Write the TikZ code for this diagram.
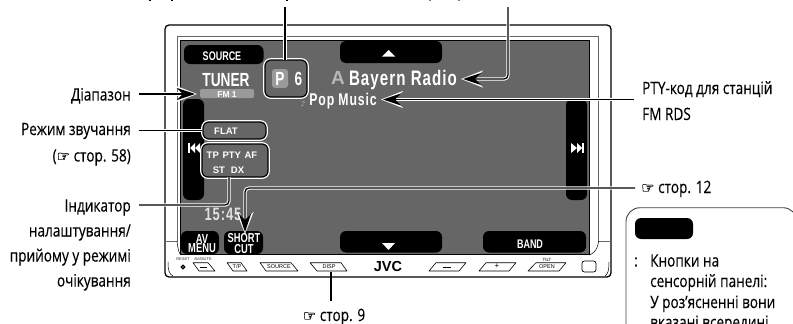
\documentclass[tikz,border=0pt]{standalone}
\usepackage{fontspec}
\usetikzlibrary{arrows.meta}
\newfontfamily\lab[FakeStretch=0.8,FakeBold=0.25]{Open Sans}
\newfontfamily\dev[FakeStretch=0.72]{Liberation Sans}
\newfontfamily\devw[FakeStretch=0.72,LetterSpace=5]{Liberation Sans}
\newfontfamily\devn{Liberation Sans}
\newfontfamily\symf[FakeBold=0.3]{DejaVu Sans}
\definecolor{scr}{HTML}{666666}
\definecolor{pill}{HTML}{9A9A9A}
\newcommand{\hand}{{\symf\fontsize{15}{15}\selectfont ☞}}
\tikzset{
  lbl/.style={inner sep=0pt,font=\lab\fontsize{17}{17}\selectfont,text=black},
  lblr/.style={lbl,anchor=base east},
  lbll/.style={lbl,anchor=base west},
  tbold/.style={inner sep=0pt,anchor=base,text=white},
  blackbtn/.style={fill=black,rounded corners=6pt},
  hlbox/.style={draw=black,line width=1.2pt,rounded corners=6pt,inner sep=0pt,
    preaction={draw=white,line width=3.8pt}},
  conn/.style={draw=black,line width=1.3pt,rounded corners=4pt,
    preaction={draw=white,line width=3.4pt}},
  arrowconn/.style={draw=black,line width=1.3pt,rounded corners=4pt,
    -{Stealth[length=18pt,width=12pt,inset=6pt]},
    preaction={draw=white,line width=3.4pt,shorten >=-2pt,
      -{Stealth[length=22pt,width=17pt,inset=8pt]}}},
  thin/.style={draw=black,line width=0.5pt},
  keybtn/.style={draw=black,line width=0.6pt,line join=round},
}
\begin{document}
\begin{tikzpicture}[x=1pt,y=-1pt]
\useasboundingbox (0,0) rectangle (793,324);
\clip (0,0) rectangle (793,324);
% clipped remnants of the top text
\foreach \xx/\cc in {150/black,172/black,287/black,430/black!50,459/black!50}
  \fill[\cc] (\xx-0.7,0) rectangle (\xx+0.7,1.4);
% bezel
\draw[line width=1.3pt,rounded corners=4pt] (165,25) rectangle (611,277);
\draw[thin,draw=black!60] (165,241) -- (177,241) -- (177,36.5) -- (598.7,36.5) -- (598.7,241) -- (611,241);
\draw[thin] (168,262) .. controls (168,270) and (169,274) .. (173,276);
\draw[thin] (598.7,241) .. controls (597,252) and (592,254) .. (589,255);
\draw[thin] (177,241) .. controls (178,250) and (179,253) .. (181,255);
\draw[thin] (609,262) .. controls (609,270) and (608,274) .. (605,276);
% screen
\fill[scr,draw=black,line width=0.8pt] (180,40.5) rectangle (589,254);
% soft buttons
\fill[blackbtn] (184,45) rectangle (263.5,64);
\fill[blackbtn] (340,41) rectangle (442,63);
\fill[blackbtn] (183,99) rectangle (204,200);
\fill[blackbtn] (566,99) rectangle (587,200);
\fill[blackbtn] (181,231) rectangle (219,254);
\fill[blackbtn] (224,231) rectangle (263,254);
\fill[blackbtn] (340,231) rectangle (442,252.5);
\fill[blackbtn] (483,231) rectangle (586,252.5);
\fill[white] (388.5,50) -- (395,56.5) -- (382,56.5) -- cycle;
\fill[white] (388.5,250) -- (395,243) -- (382,243) -- cycle;
% skip icons
\fill[white] (188,143) rectangle (190,153);
\fill[white] (190,148) -- (195,143) -- (195,153) -- cycle;
\fill[white] (195,148) -- (200,143) -- (200,153) -- cycle;
\fill[white] (582,143) rectangle (584,153);
\fill[white] (582,148) -- (577,143) -- (577,153) -- cycle;
\fill[white] (577,148) -- (571,143) -- (571,153) -- cycle;
% screen texts
\node[tbold,font=\dev\bfseries\fontsize{12.5}{12.5}\selectfont] (tsource) at (222,60) {SOURCE};
\node[tbold,font=\dev\bfseries\fontsize{19}{19}\selectfont] (ttuner) at (226,86) {TUNER};
\fill[pill,rounded corners=1.5pt] (200,89) rectangle (254,98);
\node[tbold,font=\devn\bfseries\fontsize{8.5}{8.5}\selectfont] (tfm) at (227,97) {FM 1};
\node[inner sep=0pt,text=white,align=center,font=\dev\bfseries\fontsize{13}{9}\selectfont] (tav) at (202,243.5) {AV\\MENU};
\node[inner sep=0pt,text=white,align=center,font=\dev\bfseries\fontsize{13}{9}\selectfont] (tshort) at (244,243.5) {SHORT\\CUT};
\node[tbold,font=\dev\bfseries\fontsize{12.5}{12.5}\selectfont] (tband) at (530,248) {BAND};
\node[tbold,text=white!88!black,font=\devw\bfseries\fontsize{18}{18}\selectfont] (ttime) at (223,220) {15:45};
\node[tbold,text=black!28,font=\devn\bfseries\fontsize{19}{19}\selectfont] (ta) at (338,84.5) {A};
\node[tbold,font=\devw\bfseries\fontsize{21}{21}\selectfont] (tbay) at (403,85) {Bayern Radio};
\node[tbold,font=\devw\bfseries\fontsize{17}{17}\selectfont] (tpop) at (343,105.5) {Pop Music};
\node[tbold,text=black!35,font=\symf\fontsize{7}{7}\selectfont] (tnote) at (303,106) {♪};
% highlighted boxes
\node[hlbox,fill=scr,minimum width=42pt,minimum height=37pt] (pbox) at (286,78.5) {};
\fill[pill,rounded corners=3pt] (272,69) rectangle (288,88);
\node[tbold,font=\dev\bfseries\fontsize{19}{19}\selectfont] (tp) at (280,85) {P};
\node[tbold,font=\dev\bfseries\fontsize{19}{19}\selectfont] (t6) at (298.5,85) {6};
\node[hlbox,fill=scr,minimum width=63pt,minimum height=17pt] (flat) at (234.5,130.5) {};
\node[tbold,font=\devn\bfseries\fontsize{9.5}{9.5}\selectfont] (tflat) at (226,134.5) {FLAT};
\node[hlbox,fill=scr,minimum width=66pt,minimum height=33pt] (ind) at (235,160.5) {};
\node[tbold,font=\devn\bfseries\fontsize{9.5}{9.5}\selectfont] (ttp) at (232,158) {TP\hspace{1pt} PTY\hspace{1pt} AF};
\node[tbold,font=\devn\bfseries\fontsize{9.5}{9.5}\selectfont] (tst) at (228.5,173) {ST\hspace{6pt}DX};
% hardware row
\node[inner sep=0pt,font=\devn\fontsize{4}{4}\selectfont,text=black!80] (treset) at (183,259) {RESET};
\draw[line width=1.3pt] (183,267) circle (1.8pt);
\node[inner sep=0pt,font=\devn\fontsize{4}{4}\selectfont,text=black!80] (tmute) at (203,259) {AV/MUTE};
\foreach \a/\b/\c/\d in {193/208/199/215, 227/241/233/247, 260/291/266/298, 310/341/317/347}
  \draw[keybtn] (\a,262.7) -- (\b,262.7) -- (\d,271) -- (\c,271) -- cycle;
\foreach \a/\b/\c/\d in {436/466/429/459, 486/516/479/509, 536/566/528/559}
  \draw[keybtn] (\a,262.7) -- (\b,262.7) -- (\d,271) -- (\c,271) -- cycle;
\draw[line width=0.9pt] (200,267) -- (207,267);
\draw[line width=0.9pt] (443,267) -- (451,267);
\node[inner sep=0pt,font=\devn\fontsize{8}{8}\selectfont] (tplus) at (497,266.5) {+};
\node[inner sep=0pt,font=\devn\fontsize{5.5}{5.5}\selectfont] (ttp2) at (237,267) {T/P};
\node[inner sep=0pt,font=\devn\fontsize{5.5}{5.5}\selectfont] (tsrc2) at (279,267) {SOURCE};
\node[inner sep=0pt,font=\devn\fontsize{5.5}{5.5}\selectfont] (tdisp) at (329,267) {DISP};
\node[inner sep=0pt,font=\devn\fontsize{5.5}{5.5}\selectfont] (topen) at (547,267) {OPEN};
\node[inner sep=0pt,font=\devn\fontsize{4.5}{4.5}\selectfont] (ttilt) at (547,259.5) {TILT};
\node[inner sep=0pt,font=\devn\bfseries\fontsize{14.5}{14.5}\selectfont] (tjvc) at (388,266.5) {JVC};
\draw[line width=0.7pt,rounded corners=2.5pt] (582,261) rectangle (596,272);
% labels
\node[lblr] (ldiap) at (131,100.5) {Діапазон};
\node[lblr] (lmode) at (131,135) {Режим звучання};
\node[lblr] (lpage) at (131,161.5) {(\hand{} стор. 58)};
\node[lblr] (lind1) at (131,211.5) {Індикатор};
\node[lblr] (lind2) at (131,236.5) {налаштування/};
\node[lblr] (lind3) at (131,261.5) {прийому у режимі};
\node[lblr] (lind4) at (131,286.5) {очікування};
\node[lbll] (lpty1) at (642,94) {PTY-код для станцій};
\node[lbll] (lpty2) at (642,120) {FM RDS};
\node[lbll] (lp12) at (641,193) {\hand{} стор. 12};
\node[lbl,anchor=base] (lp9) at (334,321) {\hand{} стор. 9};
% connectors
\coordinate (topa) at (285,7);
\coordinate (topb) at (508,7);
\coordinate (kb) at (508,79);
\coordinate (ptyend) at (634,99.5);
\coordinate (diapend) at (139,94);
\coordinate (diaptip) at (195,94);
\coordinate (flatend) at (139,130.5);
\coordinate (indend) at (139,205);
\coordinate (indk) at (229,205);
\coordinate (p12end) at (635,188);
\coordinate (p12k) at (245,188);
\coordinate (shorttip) at (245,232);
\coordinate (p9end) at (331,301);
\coordinate (p9top) at (331,271.5);
\coordinate (baytip) at (463,79);
\coordinate (poptip) at (383,99.5);
\path[conn] (topa) -- (285,60);
\path[arrowconn] (topb) -- (kb) -- (baytip);
\path[arrowconn] (ptyend) -- (poptip);
\path[arrowconn] (diapend) -- (diaptip);
\path[conn] (flatend) -- (flat.west);
\path[conn] (indend) -- (indk) -- (229,177);
\path[arrowconn] (p12end) -- (p12k) -- (shorttip);
\draw[black,line width=1.3pt] (p9end) -- (p9top);
% note box
\draw[line width=0.9pt,draw=black!75,rounded corners=14pt] (626,340) -- (626,207.7) -- (797,207.7) -- (797,340);
\fill[black,rounded corners=6pt] (635,218) rectangle (693,239);
\node[lbll] (ncolon) at (634,266.5) {:};
\node[lbll] (n1) at (650,266.5) {Кнопки на};
\node[lbll] (n2) at (650,287) {сенсорній панелі:};
\node[lbll] (n3) at (650,308) {У роз’ясненні вони};
\node[lbll] (n4) at (650,328) {вказані всередині};
\end{tikzpicture}
\end{document}
